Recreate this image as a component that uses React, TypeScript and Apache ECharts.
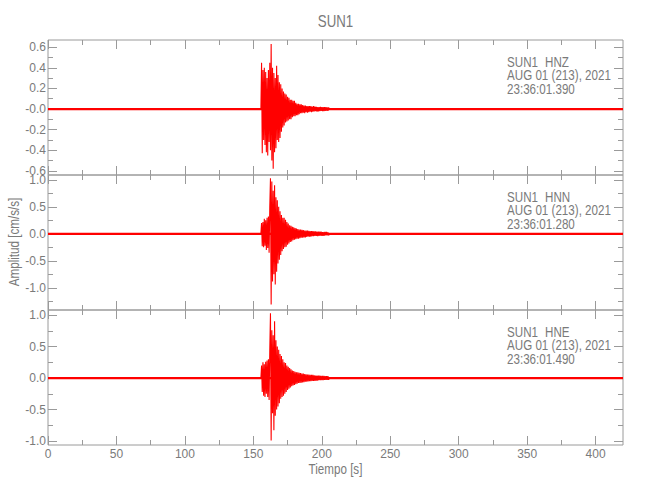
import React, { useEffect, useRef } from "react";
import * as echarts from "echarts";

// ---------- data ----------
const stationTitle = "SUN1";
const channelNames = ["HNZ", "HNN", "HNE"];
const dateLabel = "AUG 01 (213), 2021";
const startTimes = ["23:36:01.390", "23:36:01.280", "23:36:01.490"];

// event window samples (s): first sample time and sample step
const eventStart = 155.5;
const sampleStep = 0.5;

// HNZ amplitudes (cm/s/s), every 0.5 s from 155.5 s
const hnzValues = [
  0, 0.45, -0.43,
  0.38, -0.3, 0.4, -0.35,
  0.36, -0.42, 0.3, -0.45,
  0.38, -0.32, 0.45, -0.4,
  0.63, -0.5, 0.4, -0.58,
  0.35, -0.42, 0.3, -0.38,
  0.42, -0.3, 0.33, -0.32,
  0.26, -0.28, 0.24, -0.22,
  0.2, -0.18, 0.17, -0.16,
  0.15, -0.13, 0.14, -0.12,
  0.12, -0.11, 0.11, -0.1,
  0.09, -0.1, 0.09, -0.08,
  0.08, -0.07, 0.08, -0.07,
  0.06, -0.06, 0.05, -0.06,
  0.05, -0.05, 0.045, -0.04,
  0.045, -0.04, 0.04, -0.035,
  0.035, -0.04, 0.035, -0.03,
  0.03, -0.035, 0.03, -0.03,
  0.03, -0.025, 0.028, -0.03,
  0.025, -0.025, 0.03, -0.022,
  0.025, -0.02, 0.022, -0.025,
  0.02, -0.022, 0.02, -0.02,
  0.022, -0.018, 0.02, -0.02,
  0.018, -0.02, 0.02, -0.018,
  0.018, -0.016, 0.017, -0.018,
  0.016, 0,
];

// HNN amplitudes (cm/s/s)
const hnnValues = [
  0, 0.2, -0.23,
  0.22, -0.25, 0.28, -0.22,
  0.25, -0.3, 0.3, -0.26,
  0.32, -0.35, 0.5, 1.03,
  -1.31, 0.97, -0.88, 0.8,
  -0.75, 0.9, -0.94, 0.68,
  -0.7, 0.62, -0.55, 0.5,
  -0.48, 0.42, -0.39, 0.35,
  -0.32, 0.3, -0.28, 0.3,
  -0.25, 0.26, -0.24, 0.22,
  -0.2, 0.19, -0.18, 0.16,
  -0.15, 0.15, -0.14, 0.13,
  -0.12, 0.12, -0.11, 0.11,
  -0.1, 0.1, -0.09, 0.09,
  -0.09, 0.08, -0.08, 0.08,
  -0.07, 0.075, -0.07, 0.07,
  -0.065, 0.06, -0.065, 0.06,
  -0.055, 0.06, -0.05, 0.055,
  -0.05, 0.05, -0.05, 0.05,
  -0.045, 0.05, -0.045, 0.045,
  -0.04, 0.045, -0.04, 0.04,
  -0.045, 0.04, -0.04, 0.04,
  -0.035, 0.04, -0.04, 0.035,
  -0.04, 0.035, -0.035, 0.035,
  -0.03, 0.035, -0.03, 0.03,
  -0.03, 0,
];

// HNE amplitudes (cm/s/s)
const hneValues = [
  0, 0.2, -0.22,
  0.25, -0.28, 0.22, -0.3,
  0.26, -0.25, 0.28, -0.3,
  0.3, -0.35, 0.45, 1.03,
  -0.99, 0.76, -0.56, 0.68,
  -0.83, 0.9, -0.6, 0.6,
  -0.5, 0.5, -0.45, 0.45,
  -0.4, 0.38, -0.33, 0.35,
  -0.3, 0.3, -0.28, 0.25,
  -0.25, 0.24, -0.22, 0.2,
  -0.19, 0.18, -0.17, 0.16,
  -0.15, 0.14, -0.13, 0.12,
  -0.12, 0.11, -0.11, 0.1,
  -0.1, 0.09, -0.09, 0.09,
  -0.08, 0.085, -0.08, 0.08,
  -0.075, 0.07, -0.07, 0.07,
  -0.065, 0.065, -0.06, 0.06,
  -0.06, 0.055, -0.055, 0.055,
  -0.05, 0.05, -0.05, 0.05,
  -0.045, 0.05, -0.045, 0.045,
  -0.045, 0.04, -0.04, 0.04,
  -0.04, 0.04, -0.035, 0.04,
  -0.035, 0.035, -0.035, 0.035,
  -0.035, 0.035, -0.03, 0.03,
  -0.03, 0.03, -0.03, 0.03,
  -0.03, 0,
];

// background noise trace (seconds, amplitude)
const baselineTimes = [0, 420];
const baselineValues = [0, 0];

const xRange = [0, 420];
const xMajorTicks = [0, 50, 100, 150, 200, 250, 300, 350, 400];
const xMinorTicks = [25, 75, 125, 175, 225, 275, 325, 375];

const yRanges = [
  [-0.64, 0.67],
  [-1.41, 1.09],
  [-1.063, 1.08],
];
const yMajorTicks = [
  [-0.6, -0.4, -0.2, 0, 0.2, 0.4, 0.6],
  [-1, -0.5, 0, 0.5, 1],
  [-1, -0.5, 0, 0.5, 1],
];
const yMinorTicks = [
  [-0.5, -0.3, -0.1, 0.1, 0.3, 0.5],
  [-1.25, -0.75, -0.25, 0.25, 0.75],
  [-0.75, -0.25, 0.25, 0.75],
];

// ---------- layout / style ----------
const FONT = "'Liberation Sans', Arial, sans-serif";
const NARROW = 0.83;
const TEXT = "#7a7a7a";
const AXIS = "#9a9a9a";
const RED = "#ff0000";
const GRID_LEFT = 48;
const GRID_RIGHT = 27;
const GRID_TOPS = [40, 175, 310];
const GRID_H = 135;

export default function App() {
  const ref = useRef<HTMLDivElement>(null);

  useEffect(() => {
    if (!ref.current) return;
    const chart = echarts.init(ref.current, null, { renderer: "svg" });

    const panels = [hnzValues, hnnValues, hneValues];

    const grids = GRID_TOPS.map((top) => ({
      left: GRID_LEFT,
      right: GRID_RIGHT,
      top,
      height: GRID_H,
      show: true,
      borderColor: AXIS,
      borderWidth: 1,
      backgroundColor: "transparent",
      containLabel: false,
      outerBoundsMode: "none",
    }));

    const xAxes: any[] = [];
    const yAxes: any[] = [];
    for (let p = 0; p < 3; p++) {
      for (const side of ["bottom", "top"]) {
        for (const kind of ["major", "minor"]) {
          xAxes.push({
            gridIndex: p,
            type: "value",
            min: xRange[0],
            max: xRange[1],
            position: side,
            axisLine: { show: false, onZero: false },
            splitLine: { show: false },
            axisTick: {
              show: true,
              inside: true,
              length: kind === "major" ? 9 : 5,
              customValues: kind === "major" ? xMajorTicks : xMinorTicks,
              lineStyle: { color: AXIS, width: 1 },
            },
            axisLabel: {
              show: p === 2 && side === "bottom" && kind === "major",
              customValues: xMajorTicks,
              margin: 3,
              color: TEXT,
              fontSize: 12,
              fontFamily: FONT,
            },
          });
        }
      }
      for (const side of ["left", "right"]) {
        for (const kind of ["major", "minor"]) {
          yAxes.push({
            gridIndex: p,
            type: "value",
            min: yRanges[p][0],
            max: yRanges[p][1],
            position: side,
            axisLine: { show: false, onZero: false },
            splitLine: { show: false },
            axisTick: {
              show: true,
              inside: true,
              length: kind === "major" ? 9 : 5,
              customValues: kind === "major" ? yMajorTicks[p] : yMinorTicks[p],
              lineStyle: { color: AXIS, width: 1 },
            },
            axisLabel: {
              show: side === "left" && kind === "major",
              customValues: yMajorTicks[p],
              margin: 2,
              color: TEXT,
              fontSize: 12,
              fontFamily: FONT,
              formatter: (v: number) =>
                p === 0 && Math.abs(v) < 1e-9 ? "-0.0" : v.toFixed(1),
            },
          });
        }
      }
    }

    const series: any[] = [];
    panels.forEach((vals, p) => {
      series.push({
        type: "line",
        xAxisIndex: p * 4,
        yAxisIndex: p * 4,
        data: baselineTimes.map((t, i) => [t, baselineValues[i]]),
        showSymbol: false,
        silent: true,
        lineStyle: { color: RED, width: 2.2 },
      });
      series.push({
        type: "line",
        xAxisIndex: p * 4,
        yAxisIndex: p * 4,
        data: vals.map((v, i) => [eventStart + i * sampleStep, v]),
        showSymbol: false,
        silent: true,
        lineStyle: { color: RED, width: 1.1 },
      });
    });

    const txt = (x: number, y: number, text: string, size: number, align = "left", extra: any = {}) => ({
      type: "text",
      x,
      y,
      scaleX: NARROW,
      silent: true,
      ...extra,
      style: {
        text,
        fill: TEXT,
        fontSize: size,
        fontFamily: FONT,
        textAlign: align,
        align,
        textVerticalAlign: "middle",
        verticalAlign: "middle",
      },
    });

    const graphics: any[] = [
      txt(335.5, 22, stationTitle, 16, "center"),
      txt(335.5, 469, "Tiempo [s]", 14, "center"),
      txt(14, 242, "Amplitud [cm/s/s]", 14, "center", { rotation: Math.PI / 2 }),
    ];
    GRID_TOPS.forEach((top, p) => {
      graphics.push(txt(507, top + 22, stationTitle, 14));
      graphics.push(txt(545, top + 22, channelNames[p], 14));
      graphics.push(txt(507, top + 35.5, dateLabel, 14));
      graphics.push(txt(507, top + 49, startTimes[p], 14));
    });

    chart.setOption({
      animation: false,
      backgroundColor: "#ffffff",
      grid: grids,
      xAxis: xAxes,
      yAxis: yAxes,
      series,
      graphic: graphics,
    });

    return () => chart.dispose();
  }, []);

  return (
    <div
      ref={ref}
      style={{ position: "fixed", left: 0, top: 0, width: 650, height: 500 }}
    />
  );
}
